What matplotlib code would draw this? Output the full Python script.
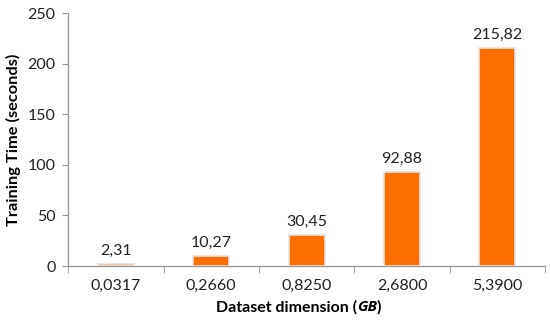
import matplotlib
matplotlib.use("Agg")
import matplotlib.pyplot as plt
import numpy as np

categories = ["0,0317", "0,2660", "0,8250", "2,6800", "5,3900"]
values = [2.31, 10.27, 30.45, 92.88, 215.82]
labels = ["2,31", "10,27", "30,45", "92,88", "215,82"]
yticks = [0, 50, 100, 150, 200, 250]

plt.rcParams['font.family'] = ['Lato', 'DejaVu Sans']

fig = plt.figure(figsize=(5.5, 3.26), dpi=100)
ax = fig.add_axes([0.124, 0.184, 0.867, 0.776])

fs = 11.5
x = np.arange(len(categories))
ax.bar(x, values, width=0.38, color="#ff6e00", edgecolor="#e6e2de", linewidth=1.2, zorder=3)
for xi, v, lab in zip(x, values, labels):
    ax.text(xi, v + 6, lab, ha="center", va="bottom", fontsize=fs, color="#222222")

ax.set_xlim(-0.5, len(categories) - 0.5)
ax.set_ylim(0, 250)
ax.set_yticks(yticks)
ax.set_yticklabels([str(t) for t in yticks], fontsize=fs, color="#222222")
ax.set_xticks(x)
ax.set_xticklabels(categories, fontsize=fs, color="#222222")
ax.set_xticks(np.arange(len(categories) + 1) - 0.5, minor=True)
ax.tick_params(axis="x", which="major", length=0, pad=9)
ax.tick_params(axis="x", which="minor", length=5, color="#999999")
ax.tick_params(axis="y", length=4, color="#999999", pad=5)

for s in ["top", "right"]:
    ax.spines[s].set_visible(False)
for s in ["left", "bottom"]:
    ax.spines[s].set_color("#999999")
    ax.spines[s].set_linewidth(1.0)

ax.set_ylabel("Training Time (seconds)", fontsize=11.8, fontweight="bold", labelpad=5)

# x label composed of three pieces so "GB" can be bold italic
ybase = 0.045
pieces = [
    fig.text(0, ybase, "Dataset dimension (", fontsize=11.5, fontweight="bold", va="baseline"),
    fig.text(0, ybase, "GB", fontsize=11, fontweight="bold", fontstyle="italic",
             family="Open Sans", va="baseline"),
    fig.text(0, ybase, ")", fontsize=11.5, fontweight="bold", va="baseline"),
]
fig.canvas.draw()
r = fig.canvas.get_renderer()
widths = [p.get_window_extent(r).width for p in pieces]
bb = ax.get_position()
cx = (bb.x0 + bb.x1) / 2 * fig.bbox.width - 8
pos = cx - sum(widths) / 2
for p, w in zip(pieces, widths):
    p.set_x(pos / fig.bbox.width)
    pos += w

fig.savefig("out.png", dpi=100)
